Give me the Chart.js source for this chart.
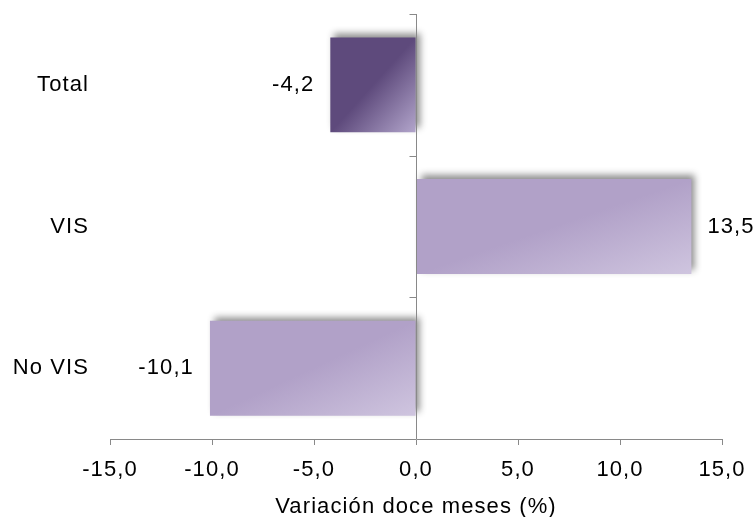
<!DOCTYPE html>
<html>
<head>
<meta charset="utf-8">
<script src="https://cdn.jsdelivr.net/npm/chart.js@4.4.1/dist/chart.umd.min.js"></script>
<style>
  html, body { margin: 0; padding: 0; background: #ffffff; }
  #wrap { width: 756px; height: 517px; position: relative; }
</style>
</head>
<body>
<div id="wrap"><canvas id="c" width="756" height="517"></canvas></div>
<script>
// ---- data ----
const categories = ['Total', 'VIS', 'No VIS'];
const values = [-4.2, 13.5, -10.1];
const xTicks = [-15, -10, -5, 0, 5, 10, 15];
const axisTitle = 'Variación doce meses (%)';

// ---- styles ----
const FONT = '"Liberation Sans", Arial, sans-serif';
const FONT_SIZE = 22;
const LETTER_SPACING = '1.1px';
const AXIS_COLOR = '#898989';
const baseColors = ['#5e4a7c', '#b1a1c8', '#b1a1c8'];
const lightColors = ['#b2a5cb', '#cfc5df', '#cfc5df'];

const fmt = v => v.toFixed(1).replace('.', ',');

function setSpacing(chart) {
  try { chart.ctx.letterSpacing = LETTER_SPACING; } catch (e) {}
}

const spacingPlugin = {
  id: 'spacing',
  beforeLayout: setSpacing,
  beforeDraw: setSpacing
};

const barStylePlugin = {
  id: 'barStyle',
  beforeDatasetsDraw(chart) {
    const ctx = chart.ctx;
    const meta = chart.getDatasetMeta(0);
    meta.data.forEach((el, i) => {
      const left = Math.min(el.x, el.base), right = Math.max(el.x, el.base);
      const top = el.y - el.height / 2, bottom = el.y + el.height / 2;
      const w = right - left, h = bottom - top;
      const cx = left + w / 2, cy = top + h / 2;
      const len = Math.sqrt(w * w + h * h);
      const dx = h / len, dy = w / len;
      const t = w * h / len;
      const g = ctx.createLinearGradient(cx - t * dx, cy - t * dy, cx + t * dx, cy + t * dy);
      g.addColorStop(0, baseColors[i]);
      g.addColorStop(0.5, baseColors[i]);
      g.addColorStop(1, lightColors[i]);
      el.options.backgroundColor = g;
    });
    ctx.save();
    ctx.shadowColor = 'rgba(0,0,0,0.45)';
    ctx.shadowBlur = 7;
    ctx.shadowOffsetX = 4;
    ctx.shadowOffsetY = -4;
  },
  afterDatasetsDraw(chart) {
    chart.ctx.restore();
    const ctx = chart.ctx;
    const xs = chart.scales.x;
    const area = chart.chartArea;
    // vertical axis at x = 0
    const x0 = Math.round(xs.getPixelForValue(0)) + 0.5;
    ctx.save();
    ctx.strokeStyle = AXIS_COLOR;
    ctx.lineWidth = 1;
    ctx.beginPath();
    ctx.moveTo(x0, area.top);
    ctx.lineTo(x0, area.bottom);
    const n = categories.length;
    for (let k = 0; k < n; k++) {
      const yy = Math.round(area.top + (area.bottom - area.top) * k / n) + 0.5;
      ctx.moveTo(x0 - 7, yy);
      ctx.lineTo(x0, yy);
    }
    ctx.stroke();
    // data labels
    setSpacing(chart);
    ctx.font = FONT_SIZE + 'px ' + FONT;
    ctx.fillStyle = '#000000';
    ctx.textBaseline = 'middle';
    const meta = chart.getDatasetMeta(0);
    meta.data.forEach((el, i) => {
      const v = values[i];
      if (v < 0) {
        ctx.textAlign = 'right';
        ctx.fillText(fmt(v), el.x - 16, el.y);
      } else {
        ctx.textAlign = 'left';
        ctx.fillText(fmt(v), el.x + 16, el.y);
      }
    });
    ctx.restore();
  }
};

new Chart(document.getElementById('c'), {
  type: 'bar',
  data: {
    labels: categories,
    datasets: [{
      data: values,
      backgroundColor: baseColors,
      borderWidth: 0,
      barPercentage: 0.67,
      categoryPercentage: 1.0
    }]
  },
  options: {
    indexAxis: 'y',
    responsive: false,
    animation: false,
    devicePixelRatio: 1,
    layout: { padding: { top: 14, right: 34, bottom: 0, left: 0 } },
    plugins: {
      legend: { display: false },
      tooltip: { enabled: false }
    },
    scales: {
      x: {
        type: 'linear',
        min: -15,
        max: 15,
        afterBuildTicks: s => { s.ticks = xTicks.map(v => ({ value: v })); },
        afterFit: s => { s.height = 78; s.paddingLeft = 0; s.paddingRight = 0; },
        border: { display: true, color: AXIS_COLOR, width: 1 },
        grid: { display: true, drawOnChartArea: false, drawTicks: true, tickLength: 6, color: AXIS_COLOR },
        ticks: {
          callback: v => fmt(v),
          color: '#000000',
          font: { family: FONT, size: FONT_SIZE },
          padding: 12,
          maxRotation: 0,
          autoSkip: false
        },
        title: {
          display: true,
          text: axisTitle,
          color: '#000000',
          font: { family: FONT, size: FONT_SIZE },
          padding: { top: 0, bottom: -3 }
        }
      },
      y: {
        type: 'category',
        position: 'left',
        afterFit: s => { s.width = 110; s.paddingTop = 0; s.paddingBottom = 0; },
        border: { display: false },
        grid: { display: false, drawTicks: false },
        ticks: {
          color: '#000000',
          font: { family: FONT, size: FONT_SIZE },
          padding: 21
        }
      }
    }
  },
  plugins: [spacingPlugin, barStylePlugin]
});
</script>
</body>
</html>
